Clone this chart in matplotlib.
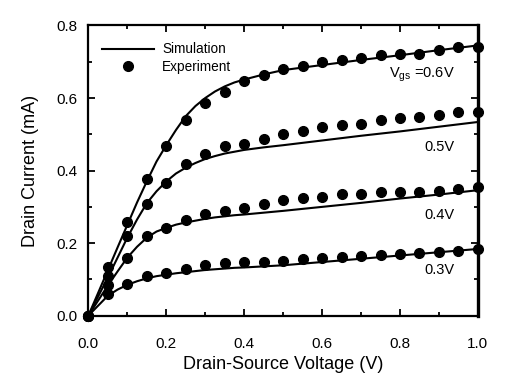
import matplotlib
matplotlib.use("Agg")
import matplotlib.pyplot as plt
from matplotlib.ticker import MultipleLocator, FormatStrFormatter

plt.rcParams['font.family'] = ['Liberation Sans', 'DejaVu Sans']
plt.rcParams['mathtext.fontset'] = 'custom'
plt.rcParams['mathtext.rm'] = 'Liberation Sans'

# Experiment data (Vds = 0..1.0 step 0.05)
x_exp = [0.0, 0.05, 0.10, 0.15, 0.20, 0.25, 0.30, 0.35, 0.40, 0.45, 0.50,
         0.55, 0.60, 0.65, 0.70, 0.75, 0.80, 0.85, 0.90, 0.95, 1.00]
exp_06 = [0.0, 0.135, 0.259, 0.378, 0.468, 0.539, 0.587, 0.617, 0.647, 0.664, 0.679,
          0.688, 0.698, 0.704, 0.709, 0.718, 0.722, 0.722, 0.733, 0.740, 0.742]
exp_05 = [0.0, 0.109, 0.219, 0.309, 0.367, 0.419, 0.447, 0.468, 0.474, 0.488, 0.501,
          0.509, 0.520, 0.525, 0.528, 0.539, 0.546, 0.548, 0.554, 0.562, 0.562]
exp_04 = [0.0, 0.084, 0.160, 0.219, 0.243, 0.263, 0.280, 0.288, 0.298, 0.308, 0.318,
          0.325, 0.328, 0.335, 0.335, 0.340, 0.340, 0.341, 0.343, 0.348, 0.355]
exp_03 = [0.0, 0.060, 0.087, 0.109, 0.118, 0.129, 0.140, 0.144, 0.147, 0.149, 0.151,
          0.155, 0.160, 0.162, 0.164, 0.167, 0.170, 0.172, 0.176, 0.179, 0.184]

# Simulation curves
x_sim = [0.0, 0.05, 0.075, 0.10, 0.125, 0.15, 0.175, 0.20, 0.225, 0.25, 0.275, 0.30,
         0.325, 0.35, 0.375, 0.40, 0.45, 0.50, 0.60, 0.70, 0.80, 0.90, 1.00]
sim_06 = [0.0, 0.125, 0.188, 0.250, 0.312, 0.370, 0.425, 0.470, 0.512, 0.550, 0.578, 0.600,
          0.618, 0.632, 0.643, 0.651, 0.665, 0.677, 0.691, 0.705, 0.718, 0.732, 0.745]
sim_05 = [0.0, 0.105, 0.160, 0.215, 0.265, 0.310, 0.343, 0.370, 0.392, 0.408, 0.421, 0.432,
          0.440, 0.447, 0.452, 0.457, 0.464, 0.470, 0.483, 0.496, 0.508, 0.521, 0.534]
sim_04 = [0.0, 0.083, 0.122, 0.160, 0.190, 0.215, 0.232, 0.242, 0.251, 0.257, 0.262, 0.267,
          0.271, 0.274, 0.277, 0.279, 0.284, 0.289, 0.300, 0.311, 0.323, 0.334, 0.346]
sim_03 = [0.0, 0.055, 0.072, 0.085, 0.095, 0.103, 0.109, 0.113, 0.117, 0.120, 0.123, 0.126,
          0.128, 0.130, 0.132, 0.133, 0.136, 0.139, 0.148, 0.157, 0.166, 0.175, 0.184]

labels = ["$\\mathregular{V_{gs}}$ =0.6V", "0.5V", "0.4V", "0.3V"]
label_y = [0.663, 0.464, 0.277, 0.126]

fig = plt.figure(figsize=(5.15, 3.92), dpi=100)
ax = fig.add_axes([0.1715, 0.1946, 0.928 - 0.1715, 0.935 - 0.1946])

sims = [sim_06, sim_05, sim_04, sim_03]
exps = [exp_06, exp_05, exp_04, exp_03]
for i, (s, e) in enumerate(zip(sims, exps)):
    ax.plot(x_sim, s, color='black', lw=1.5,
            label='Simulation' if i == 0 else None, zorder=2)
    ax.plot(x_exp, e, 'o', color='black', ms=7, mec='black',
            label='Experiment' if i == 0 else None, zorder=3, clip_on=False)

for t, yv in zip(labels, label_y):
    ax.text(0.941, yv, t, ha='right', va='center', fontsize=10.5)

ax.set_xlim(0, 1.0)
ax.set_ylim(0, 0.8)
ax.xaxis.set_major_locator(MultipleLocator(0.2))
ax.xaxis.set_minor_locator(MultipleLocator(0.1))
ax.yaxis.set_major_locator(MultipleLocator(0.2))
ax.yaxis.set_minor_locator(MultipleLocator(0.1))
ax.xaxis.set_major_formatter(FormatStrFormatter('%.1f'))
ax.yaxis.set_major_formatter(FormatStrFormatter('%.1f'))
ax.tick_params(which='both', direction='in', top=True, right=True, labelsize=11, width=1.3)
ax.tick_params(which='major', length=5)
ax.tick_params(which='minor', length=3)
ax.tick_params(axis='x', which='major', pad=15)
ax.tick_params(axis='y', which='major', pad=8)
for side in ['left', 'bottom', 'top']:
    ax.spines[side].set_linewidth(1.6)
ax.spines['right'].set_linewidth(2.4)

ax.set_xlabel('Drain-Source Voltage (V)', fontsize=13, labelpad=4)
ax.set_ylabel('Drain Current (mA)', fontsize=13, labelpad=12)

leg = ax.legend(loc='upper left', bbox_to_anchor=(0.015, 0.97), frameon=False,
                fontsize=9.8, handlelength=3.8, handletextpad=0.6,
                labelspacing=0.25, borderaxespad=0.2, numpoints=1)

fig.savefig('out.png', dpi=100)
